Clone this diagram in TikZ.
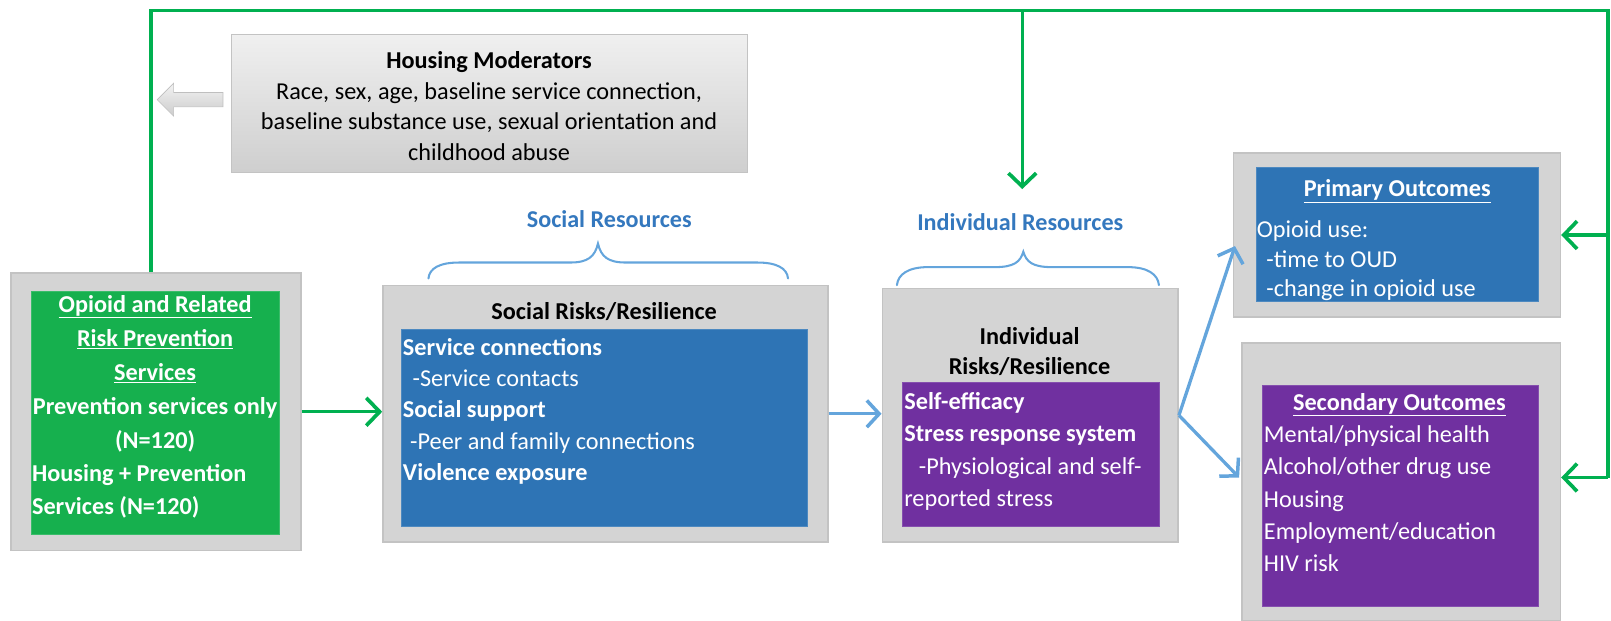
\documentclass[tikz,border=0pt]{standalone}
\usepackage{fontspec}
\setmainfont{Carlito}
\usetikzlibrary{arrows.meta,calc}
\definecolor{gline}{RGB}{0,176,80}
\definecolor{gfill}{RGB}{22,176,78}
\definecolor{bfill}{RGB}{46,116,181}
\definecolor{pfill}{RGB}{112,48,160}
\definecolor{lblue}{RGB}{100,165,220}
\definecolor{tblue}{RGB}{52,120,190}
\definecolor{graybox}{RGB}{212,212,212}
\definecolor{grayedge}{RGB}{195,195,195}
\begin{document}
\begin{tikzpicture}[x=1pt,y=-1pt,
  outerbox/.style={draw=grayedge, line width=1.5pt, fill=graybox, anchor=north west, inner sep=0pt},
  innerbox/.style={anchor=north west, inner sep=0pt, draw=#1!85!white, line width=0.8pt, fill=#1},
  wtext/.style={text=white, inner sep=0pt, font=\fontsize{23.6}{#1}\selectfont},
  btext/.style={text=black, inner sep=0pt, font=\bfseries\fontsize{23.6}{#1}\selectfont},
  gpath/.style={draw=gline, line width=3.4pt},
  garrow/.style={draw=gline, line width=3.4pt, -{Straight Barb[length=13pt,width=27pt,line width=3.6pt]}},
  barrow/.style={draw=lblue, line width=3.2pt, -{Straight Barb[length=12pt,width=26pt,line width=3.4pt]}},
  bracestyle/.style={draw=lblue, line width=2pt, line cap=round},
  reslabel/.style={text=tblue, inner sep=0pt, font=\bfseries\fontsize{23.5}{26}\selectfont}
]
\useasboundingbox (0,0) rectangle (1568,603.45);

% Housing moderators
\node[anchor=north west, inner sep=0pt, minimum width=502pt, minimum height=134pt,
      draw=grayedge, line width=1pt, top color=gray!12, bottom color=gray!38] (hm) at (225,33) {};
\node[btext=29.7, align=center, anchor=north, font=\fontsize{23.6}{29.7}\selectfont] (hmt) at (476,50)
  {\textbf{Housing Moderators}\\\mdseries Race, sex, age, baseline service connection,\\\mdseries baseline substance use, sexual orientation and\\\mdseries childhood abuse};
\path[top color=gray!10, bottom color=gray!40, draw=gray!50, line width=0.6pt]
  (217,90) -- (169,90) -- (169,81) -- (153,97) -- (169,113) -- (169,104) -- (217,104) -- cycle;

% Left box
\node[outerbox, minimum width=282pt, minimum height=270pt] (lo) at (10,265) {};
\node[innerbox=gfill, minimum width=242pt, minimum height=237pt] (li) at (30,283) {};
\node[wtext=33.2, align=center, anchor=north, font=\bfseries\fontsize{23.6}{33.2}\selectfont] (lt) at (151,287)
  {\underline{Opioid and Related}\\\underline{Risk Prevention}\\\underline{Services}\\Prevention services only\\(N=120)};
\node[wtext=32, align=left, anchor=north west, font=\bfseries\fontsize{23.6}{32}\selectfont] (lb) at (31,452)
  {Housing + Prevention\\Services (N=120)};

% Social box
\node[outerbox, minimum width=433pt, minimum height=250pt] (so) at (372,277) {};
\node[innerbox=bfill, minimum width=395pt, minimum height=192pt] (si) at (390,320) {};
\node[btext=30] (st) at (588,303) {Social Risks/Resilience};
\node[wtext=30.5, align=left, anchor=north west] (sx) at (392,329)
  {\textbf{Service connections}\\\hspace*{0.4em}-Service contacts\\\textbf{Social support}\\\hspace*{0.3em}-Peer and family connections\\\textbf{Violence exposure}};
\draw[bracestyle] (417,271) .. controls (418,261) and (428,255.5) .. (447,255.5) -- (555,255.5)
  .. controls (572,255.5) and (579,250) .. (582,237) .. controls (585,250) and (592,255.5) .. (609,255.5)
  -- (737,255.5) .. controls (756,255.5) and (766,261) .. (767,271);
\node[reslabel] (sr) at (593,213) {Social Resources};

% Individual box
\node[outerbox, minimum width=288pt, minimum height=247pt] (io) at (858,280) {};
\node[innerbox=pfill, minimum width=250pt, minimum height=140pt] (ii) at (878,372) {};
\node[btext=29, align=center, anchor=north, font=\bfseries\fontsize{23.6}{29}\selectfont] (it) at (1002,319)
  {Individual\\Risks/Resilience};
\node[wtext=31.3, align=left, anchor=north west] (ix) at (880,382)
  {\textbf{Self-efficacy}\\\textbf{Stress response system}\\\hspace*{0.6em}-Physiological and self-\\reported stress};
\draw[bracestyle] (873,277.5) .. controls (874,267) and (884,260) .. (903,260) -- (968,260)
  .. controls (987,260) and (993,255) .. (996,245) .. controls (999,255) and (1005,260) .. (1024,260)
  -- (1098,260) .. controls (1117,260) and (1127,267) .. (1128,277.5);
\node[reslabel] (ir) at (993,216) {Individual Resources};

% Primary outcomes
\node[outerbox, minimum width=318pt, minimum height=160pt] (po) at (1200,148) {};
\node[innerbox=bfill, minimum width=275pt, minimum height=130pt] (pi) at (1222,163) {};
\node[wtext=28, font=\bfseries\fontsize{23.6}{28}\selectfont] (pt) at (1360,186) {\underline{Primary Outcomes}};
\node[wtext=28.5, align=left, anchor=north west] (px) at (1223,215)
  {Opioid use:\\\hspace*{0.4em}-time to OUD\\\hspace*{0.4em}-change in opioid use};

% Secondary outcomes
\node[outerbox, minimum width=310pt, minimum height=270pt] (se) at (1208,333) {};
\node[innerbox=pfill, minimum width=269pt, minimum height=215pt] (sp) at (1228,375) {};
\node[wtext=28, font=\bfseries\fontsize{23.6}{28}\selectfont] (sxt) at (1362,394) {\underline{Secondary Outcomes}};
\node[wtext=31.5, align=left, anchor=north west] (sxx) at (1230,414)
  {Mental/physical health\\Alcohol/other drug use\\Housing\\Employment/education\\HIV risk};

% Connectors
\draw[garrow] (lo.east) -- (lo.east -| so.west);
\draw[barrow] (so.east) -- (so.east -| io.west);
\draw[barrow] (io.east) -- ($(po.south west)+(2,-70)$);
\draw[barrow] (io.east) -- ($(se.west)+(-2,-4)$);

\coordinate (tl) at (147,10);
\coordinate (tr) at (1565,10);
\coordinate (tm) at (995,10);
\coordinate (tmend) at (995,184);
\draw[gpath] (lo.north -| tl) -- (tl) -- (tr) -- ($(tr |- se.east)+(0,-4)$);
\draw[garrow] (tm) -- (tmend);
\draw[garrow] (tr |- po.east) -- (po.east);
\draw[garrow] ($(tr |- se.east)+(0,-4)$) -- ($(se.east)+(0,-4)$);
\end{tikzpicture}
\end{document}
